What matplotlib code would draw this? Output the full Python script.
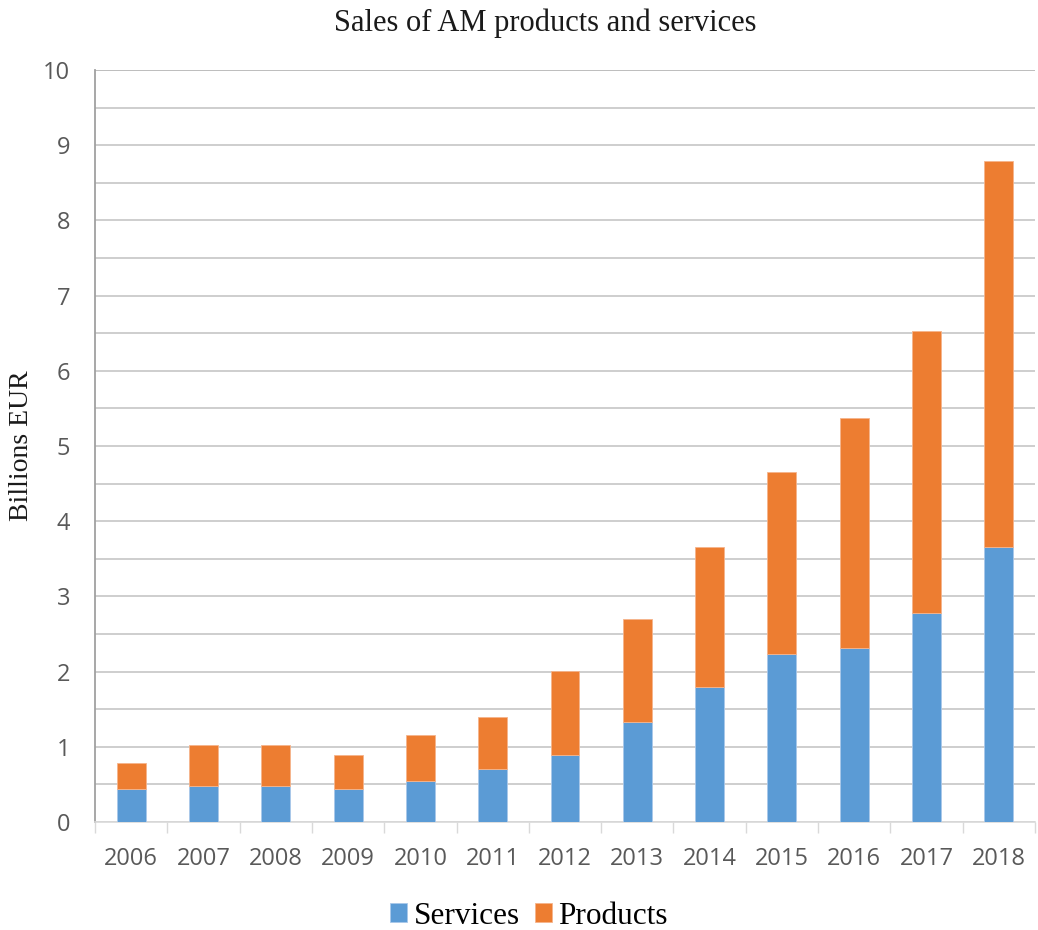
import matplotlib
matplotlib.use("Agg")
import matplotlib.pyplot as plt
from matplotlib.ticker import MultipleLocator, FixedLocator
import numpy as np

years = ["2006", "2007", "2008", "2009", "2010", "2011", "2012",
         "2013", "2014", "2015", "2016", "2017", "2018"]
services = [0.44, 0.48, 0.48, 0.44, 0.54, 0.71, 0.89, 1.33, 1.79, 2.23, 2.32, 2.78, 3.66]
totals = [0.79, 1.02, 1.02, 0.89, 1.16, 1.39, 2.01, 2.70, 3.66, 4.65, 5.37, 6.53, 8.79]
products = [t - s for t, s in zip(totals, services)]

blue = "#5B9BD5"
orange = "#ED7D31"
tick_gray = "#595959"
grid_gray = "#C6C6C6"

fig = plt.figure(figsize=(10.38, 9.30), dpi=100)
ax = fig.add_axes([95 / 1038, 1 - 822 / 930, 940 / 1038, 752 / 930])

x = np.arange(len(years))
width = 0.4
ax.bar(x, services, width, color=blue, edgecolor="#A9C8EA", linewidth=0.6,
       label="Services", zorder=3)
ax.bar(x, products, width, bottom=services, color=orange, edgecolor="#F5B48C",
       linewidth=0.6, label="Products", zorder=3)

ax.set_xlim(-0.5, len(years) - 0.5)
ax.set_ylim(0, 10)

# gridlines every half unit, labels on whole units
ax.yaxis.set_major_locator(MultipleLocator(1))
ax.yaxis.set_minor_locator(MultipleLocator(0.5))
ax.grid(axis="y", which="both", color=grid_gray, linewidth=1.2, zorder=0)
ax.axhline(10, color="#8C8C8C", linewidth=1.3, zorder=1)
ax.tick_params(axis="y", which="both", length=0, labelsize=17,
               labelcolor=tick_gray, pad=18)

# category labels centred, tick marks between categories
ax.set_xticks(x)
ax.set_xticklabels(years)
ax.xaxis.set_minor_locator(FixedLocator(np.arange(-0.5, len(years), 1.0)))
ax.tick_params(axis="x", which="major", length=0, labelsize=17,
               labelcolor=tick_gray, pad=18)
ax.tick_params(axis="x", which="minor", length=8, width=1.0, color="#D9D9D9")

for name in ("top", "right"):
    ax.spines[name].set_visible(False)
ax.spines["left"].set_color("#A0A0A0")
ax.spines["left"].set_linewidth(1.3)
ax.spines["bottom"].set_color("#D9D9D9")
ax.spines["bottom"].set_linewidth(1.2)

for lbl in ax.get_xticklabels() + ax.get_yticklabels():
    lbl.set_fontfamily("Open Sans")

serif = "Liberation Serif"
fig.text(545 / 1038, 1 - 23 / 930, "Sales of AM products and services",
         ha="center", va="center", fontsize=22, family=serif, color="#1a1a1a")
fig.text(22 / 1038, 1 - 446 / 930, "Billions EUR", rotation=90,
         ha="center", va="center", fontsize=20, family=serif, color="#1a1a1a")

fig.legend(loc="center", bbox_to_anchor=(529 / 1038, 1 - 916 / 930),
           ncol=2, frameon=False, prop={"family": serif, "size": 22.5},
           handlelength=0.55, handleheight=0.55, handletextpad=0.2,
           columnspacing=0.5)

fig.savefig("out.png", dpi=100)
